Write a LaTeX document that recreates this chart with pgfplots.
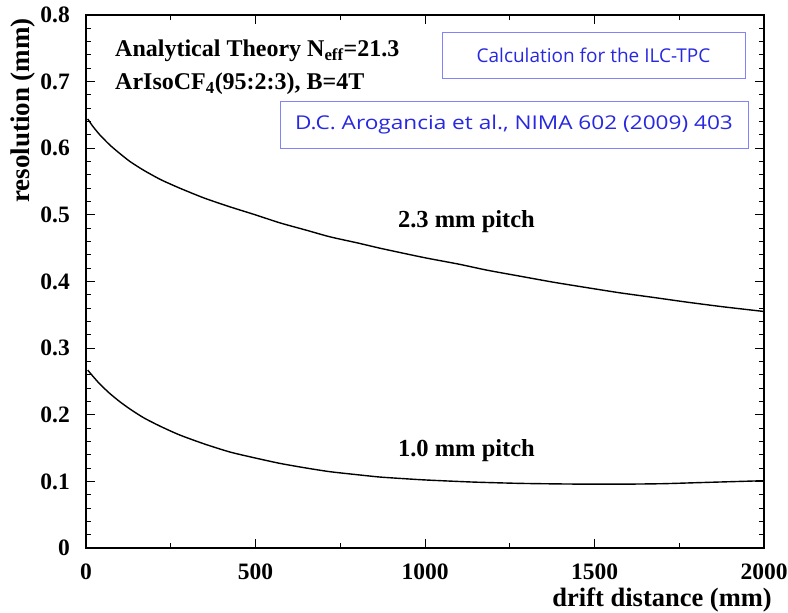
\documentclass[border=0pt]{standalone}
\usepackage{fontspec}
\setmainfont{Liberation Serif}
\newfontfamily\notefont{Open Sans}
\usepackage{pgfplots}
\pgfplotsset{compat=1.18}

\definecolor{noteblue}{RGB}{40,40,225}
\definecolor{boxblue}{RGB}{130,130,250}

% resolution vs drift distance, analytical theory
\pgfplotstableread{
x y
5 0.644
20 0.633
41 0.620
70 0.605
100 0.592
130 0.580
170 0.567
220 0.553
277 0.540
350 0.525
425 0.512
500 0.500
572 0.488
650 0.477
720 0.467
800 0.458
867 0.450
940 0.442
1006 0.435
1100 0.426
1183 0.417
1280 0.408
1378 0.399
1475 0.391
1575 0.383
1675 0.376
1773 0.369
1880 0.362
2000 0.355
}\pitchwide

\pgfplotstableread{
x y
5 0.267
20 0.258
41 0.246
70 0.232
100 0.2195
130 0.2085
170 0.1955
220 0.1825
277 0.1695
350 0.156
425 0.144
500 0.135
572 0.127
650 0.120
720 0.1145
800 0.110
867 0.1065
940 0.104
1006 0.102
1140 0.099
1280 0.097
1430 0.096
1575 0.0958
1700 0.0965
1800 0.098
1900 0.0995
2000 0.101
}\pitchnarrow

\begin{document}
\begin{tikzpicture}
\useasboundingbox (-86pt,-65pt) rectangle (702pt,548pt);
\begin{axis}[
  at={(0,0)}, anchor=south west,
  scale only axis,
  width=678pt, height=533pt,
  xmin=0, xmax=2000, ymin=0, ymax=0.8,
  axis line style={line width=1.2pt},
  xtick={0,500,1000,1500,2000},
  xticklabels={0,500,1000,1500,2000},
  minor xtick={250,750,1250,1750},
  ytick={0,0.1,0.2,0.3,0.4,0.5,0.6,0.7,0.8},
  yticklabels={0,0.1,0.2,0.3,0.4,0.5,0.6,0.7,0.8},
  minor y tick num=4,
  tick align=inside,
  xtick pos=both, ytick pos=both,
  major tick length=9pt, minor tick length=5pt,
  every tick/.style={line width=1pt, black},
  tick label style={font=\fontsize{23.5}{26}\selectfont\bfseries, inner sep=0pt},
  /pgf/number format/assume math mode=true,
  xticklabel style={anchor=north, yshift=-16pt},
  yticklabel style={anchor=east, xshift=-16pt},
]
\addplot[line width=1.4pt, smooth, tension=0.4] table[x=x,y=y] {\pitchwide};
\addplot[line width=1.4pt, smooth, tension=0.4] table[x=x,y=y] {\pitchnarrow};
\end{axis}

% axis titles
\node[rotate=90, anchor=base east, inner sep=0pt, font=\fontsize{27}{30}\selectfont\bfseries]
  at (-56pt,530pt) {resolution (mm)};
\node[anchor=base east, inner sep=0pt, font=\fontsize{26.5}{30}\selectfont\bfseries]
  at (686pt,-59pt) {drift distance (mm)};

% description
\node[anchor=base west, inner sep=0pt, font=\fontsize{24}{28}\selectfont\bfseries]
  at (29pt,491pt) {Analytical Theory N$_{\mathbf{eff}}$=21.3};
\node[anchor=base west, inner sep=0pt, font=\fontsize{24}{28}\selectfont\bfseries]
  at (29pt,458pt) {ArIsoCF$_{\mathbf 4}$(95:2:3), B=4T};

% curve labels
\node[anchor=base, inner sep=0pt, font=\fontsize{24.5}{28}\selectfont\bfseries]
  at (380.5pt,320pt) {2.3 mm pitch};
\node[anchor=base, inner sep=0pt, font=\fontsize{24.5}{28}\selectfont\bfseries]
  at (380.5pt,91pt) {1.0 mm pitch};

% boxed notes
\node[draw=boxblue, line width=0.9pt, fill=white, minimum width=303pt, minimum height=46pt,
  inner sep=0pt, text=noteblue, font=\notefont\fontsize{19}{22}\selectfont]
  at (507.5pt,493pt) {Calculation for the ILC-TPC};
\node[draw=boxblue, line width=0.9pt, fill=white, minimum width=468pt, minimum height=47pt,
  inner sep=0pt, text=noteblue, font=\notefont\fontsize{19}{22}\selectfont]
  at (428pt,423.5pt) {\scalebox{1.19}[1]{D.C. Arogancia et al., NIMA 602 (2009) 403}};
\end{tikzpicture}
\end{document}
